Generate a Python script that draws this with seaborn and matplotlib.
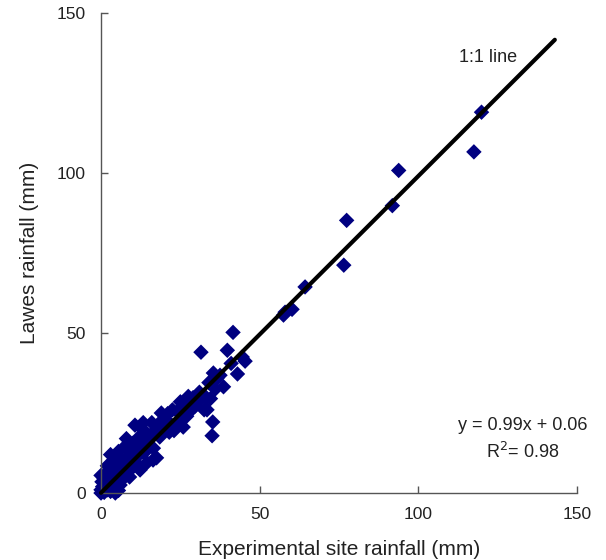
import numpy as np
import pandas as pd
import matplotlib
matplotlib.use("Agg")
import matplotlib.pyplot as plt
import seaborn as sns

# Daily rainfall: experimental site (x) vs Lawes station (y), mm
site_mm = [
    119.9, 117.5, 93.8, 91.8, 77.4, 76.5, 64.3, 60.2, 57.5, 58.0,
    41.6, 31.5, 39.8, 45.4, 43.0, 38.6, 35.4, 35.2, 35.0, 36.5,
    37.5, 34.0, 33.0, 30.5, 32.5, 34.5, 29.0, 27.5, 28.5, 26.5,
    25.0, 24.0, 22.5, 21.0, 20.0, 22.0, 23.0, 24.5, 19.0, 18.0,
    17.0, 16.0, 15.5, 14.5, 13.0, 12.0, 10.7, 11.5, 13.5, 16.5,
    17.5, 14.5, 12.5, 10.0, 9.0, 8.0, 7.5, 6.5, 5.5, 4.5,
    3.5, 3.0, 2.0, 1.5, 1.0, 0.5, 0.0, 0.0, 0.3, 0.0,
    1.0, 2.0, 3.0, 4.5, 5.5, 6.0, 7.0, 8.5, 9.5, 10.5,
    11.0, 9.0, 7.5, 6.0, 5.0, 4.0, 3.0, 2.5, 2.0, 1.5,
    0.8, 4.0, 5.0, 6.5, 8.0, 9.5, 12.0, 13.5, 15.0, 18.5,
    19.5, 21.5, 25.5, 27.0, 29.5, 31.0, 36.0, 41.0, 44.5, 13.3,
    16.4, 12.3, 25.9, 33.4,
]
lawes_mm = [
    119.0, 106.6, 100.8, 89.8, 85.2, 71.2, 64.4, 57.4, 55.6, 56.5,
    50.2, 44.0, 44.6, 41.2, 37.2, 33.2, 37.5, 22.2, 17.9, 35.8,
    36.8, 34.5, 30.0, 28.5, 26.0, 29.5, 29.8, 30.2, 26.0, 27.5,
    28.5, 25.5, 26.0, 24.8, 23.0, 21.5, 19.5, 22.0, 25.0, 21.5,
    19.5, 22.0, 17.0, 18.5, 20.0, 17.5, 21.2, 14.0, 12.5, 14.0,
    11.0, 9.5, 8.0, 15.5, 12.0, 17.0, 14.5, 10.0, 13.0, 11.5,
    9.0, 12.0, 8.5, 6.0, 4.5, 2.0, 0.0, 1.0, 3.5, 5.5,
    0.2, 1.0, 0.5, 0.0, 0.8, 2.5, 4.5, 6.5, 8.0, 9.5,
    11.5, 5.0, 7.5, 6.5, 5.0, 4.0, 3.0, 4.5, 2.5, 1.8,
    1.0, 7.0, 8.5, 9.0, 10.5, 11.0, 12.0, 15.0, 14.5, 17.5,
    20.5, 19.0, 23.5, 24.0, 27.0, 31.5, 32.5, 40.5, 42.5, 22.0,
    10.3, 7.2, 20.6, 26.0,
]

# Fitted regression and reference line extent
fit_slope = 0.99
fit_intercept = 0.06
fit_r2 = 0.98
line_x_end = 143

tick_values = [0, 50, 100, 150]

df = pd.DataFrame({"site": site_mm, "lawes": lawes_mm})

sns.set_style("ticks")
plt.rcParams["font.family"] = ["Liberation Sans", "DejaVu Sans"]

fig = plt.figure(figsize=(6.06, 5.60), dpi=100)
ax = fig.add_axes([0.1667, 0.1196, 0.7855, 0.8572])

sns.scatterplot(data=df, x="site", y="lawes", marker="D", s=62,
                color="#000080", edgecolor="none", linewidth=0,
                ax=ax, clip_on=False, zorder=2)

lx = np.array([0.0, line_x_end])
ax.plot(lx, fit_slope * lx + fit_intercept, color="black", lw=3,
        solid_capstyle="round", zorder=3, clip_on=False)

ax.set_xlim(0, 150)
ax.set_ylim(0, 150)
ax.set_xticks(tick_values)
ax.set_yticks(tick_values)
ax.tick_params(direction="in", length=5, width=1, color="#555555",
               labelsize=12.5, labelcolor="#222222")
ax.tick_params(axis="x", pad=10)
ax.tick_params(axis="y", pad=11)
for side in ("left", "bottom"):
    ax.spines[side].set_color("#555555")
    ax.spines[side].set_linewidth(1)
sns.despine(ax=ax)

ax.set_xlabel("Experimental site rainfall (mm)", fontsize=15,
              color="#222222", labelpad=13)
ax.set_ylabel("Lawes rainfall (mm)", fontsize=15, color="#222222",
              labelpad=13)

ax.text(122, 136, "1:1 line", fontsize=13, ha="center", va="center",
        color="#222222")
ax.text(133, 21.2, f"y = {fit_slope:.2f}x + {fit_intercept:.2f}",
        fontsize=13, ha="center", va="center", color="#222222")
ax.text(133, 12.8, f"R$^2$= {fit_r2:.2f}", fontsize=13, ha="center",
        va="center", color="#222222")

fig.savefig("out.png", dpi=100)
